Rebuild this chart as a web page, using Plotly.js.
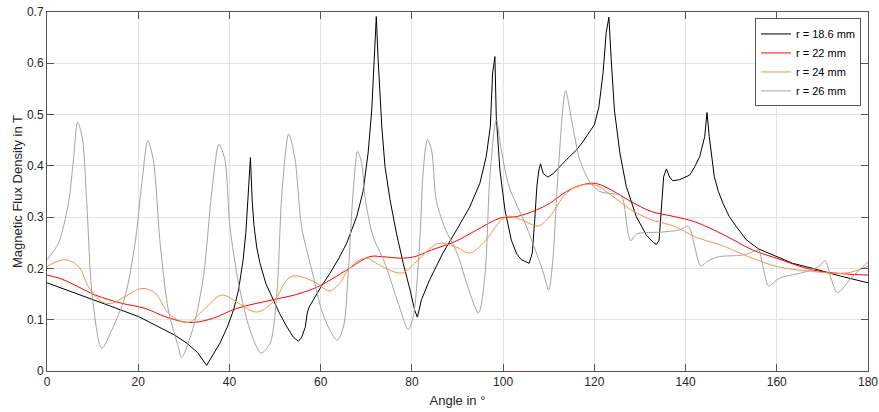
<!DOCTYPE html>
<html>
<head>
<meta charset="utf-8">
<script src="https://cdn.plot.ly/plotly-3.0.1.min.js"></script>
<style>html,body{margin:0;padding:0;background:#fff;}#chart{width:879px;height:412px;}</style>
</head>
<body>
<div id="chart"></div>
<script>
// r = 18.6 mm
var xBlack = [0, 5, 9.85, 15, 20.1, 25.2, 28, 30.7, 33, 35.0, 36.5, 37.9, 39.5, 40.9, 42, 43.0, 43.6, 44.1, 44.6, 45.0, 45.4, 46.0, 46.7, 48, 49.6, 51, 52.6, 54, 55.1, 55.8, 56.6, 57.1, 57.5, 58.75, 60, 62.0, 64, 65.7, 67.9, 69.3, 70.4, 71.2, 71.7, 72.2, 72.6, 73.4, 74.1, 75.2, 76.6, 78.1, 79.6, 80.6, 81.2, 82.1, 83.9, 86.8, 89.8, 92.7, 94.9, 96.3, 97.2, 97.5, 97.7, 98.0, 98.2, 98.5, 99.3, 100.4, 101.8, 103, 104.0, 105.7, 106.4, 106.9, 107.4, 107.8, 108.2, 108.8, 109.8, 111, 112.4, 114, 116.1, 117.5, 119.0, 120, 121, 121.9, 122.6, 123.2, 123.7, 124.4, 125.6, 127.0, 129.2, 131.4, 133.0, 133.6, 134.2, 134.6, 135.2, 135.8, 136.5, 137.2, 138.7, 140.9, 142, 143.1, 144.2, 144.7, 145.2, 146.3, 147.2, 148.2, 149.6, 151.1, 153.3, 156, 159.9, 163.5, 167.9, 174, 180];
var yBlack = [0.172, 0.156, 0.139, 0.123, 0.106, 0.083, 0.07, 0.054, 0.036, 0.011, 0.032, 0.054, 0.085, 0.119, 0.158, 0.217, 0.27, 0.347, 0.416, 0.33, 0.282, 0.24, 0.21, 0.17, 0.139, 0.112, 0.086, 0.066, 0.058, 0.065, 0.085, 0.115, 0.125, 0.145, 0.163, 0.19, 0.22, 0.249, 0.301, 0.35, 0.425, 0.509, 0.607, 0.691, 0.607, 0.477, 0.399, 0.334, 0.269, 0.21, 0.158, 0.119, 0.105, 0.139, 0.178, 0.23, 0.275, 0.32, 0.366, 0.418, 0.477, 0.55, 0.581, 0.6, 0.613, 0.496, 0.392, 0.314, 0.255, 0.228, 0.217, 0.21, 0.23, 0.29, 0.36, 0.39, 0.404, 0.385, 0.378, 0.385, 0.399, 0.413, 0.431, 0.447, 0.467, 0.48, 0.515, 0.58, 0.66, 0.69, 0.607, 0.509, 0.425, 0.36, 0.301, 0.265, 0.25, 0.247, 0.255, 0.3, 0.379, 0.394, 0.378, 0.371, 0.373, 0.382, 0.398, 0.418, 0.457, 0.504, 0.457, 0.379, 0.35, 0.327, 0.301, 0.282, 0.256, 0.238, 0.223, 0.21, 0.2, 0.185, 0.172];

// r = 22 mm
var xRed = [0, 3, 6.9, 10.6, 16.4, 21.5, 25.9, 29.9, 32.5, 36.5, 41.6, 49.6, 55, 59.8, 65.7, 70.8, 73.4, 77.7, 80.6, 84.3, 89.4, 94.2, 99.3, 102.9, 107.3, 110.2, 113.9, 117, 120.1, 123.7, 128.1, 132.5, 137.6, 142.0, 148.5, 154.7, 159.9, 167.9, 174, 180];
var yRed = [0.187, 0.18, 0.164, 0.148, 0.132, 0.122, 0.106, 0.096, 0.095, 0.103, 0.122, 0.139, 0.15, 0.166, 0.197, 0.223, 0.223, 0.22, 0.223, 0.236, 0.252, 0.275, 0.298, 0.301, 0.314, 0.327, 0.35, 0.362, 0.366, 0.353, 0.33, 0.311, 0.301, 0.291, 0.265, 0.236, 0.22, 0.197, 0.19, 0.187];

// r = 24 mm
var xOrange = [0, 4.0, 6.9, 9.1, 12.0, 14.2, 17.1, 20.8, 23.7, 26.6, 29.6, 31.4, 34.3, 38.3, 42.0, 46.0, 49.6, 53.5, 58.4, 62.0, 64.5, 66.0, 69.7, 73.4, 77.7, 80.6, 83.6, 85.8, 89.4, 92.7, 95.6, 100.7, 104, 107.7, 110.2, 113.9, 117, 120.1, 123.7, 128.1, 132.5, 137.6, 142.0, 148.5, 151.1, 154.7, 159.9, 167.9, 175.2, 180];
var yOrange = [0.204, 0.217, 0.204, 0.164, 0.135, 0.132, 0.145, 0.161, 0.152, 0.113, 0.096, 0.096, 0.119, 0.148, 0.132, 0.115, 0.135, 0.184, 0.175, 0.156, 0.175, 0.197, 0.22, 0.204, 0.191, 0.21, 0.236, 0.249, 0.243, 0.23, 0.249, 0.301, 0.295, 0.283, 0.301, 0.347, 0.362, 0.363, 0.343, 0.314, 0.295, 0.282, 0.262, 0.243, 0.233, 0.22, 0.204, 0.194, 0.191, 0.204];

// r = 26 mm
var xGray = [0, 2.5, 4.7, 5.8, 6.7, 7.7, 8.8, 9.85, 12.0, 14.2, 17.1, 19.3, 20.8, 22.1, 23.3, 24.8, 26.6, 28.8, 29.5, 32.1, 34.3, 36.1, 37.7, 39.0, 40.1, 42.0, 44.5, 46.9, 48.9, 50.4, 51.5, 53.0, 54.4, 55.8, 58.4, 60.2, 62.0, 63.6, 65.0, 66.0, 67.1, 68.1, 69.0, 69.7, 71.5, 74.1, 77.0, 79.2, 80.3, 81.7, 82.5, 83.4, 84.3, 85.4, 87.4, 89.4, 90.5, 92.0, 94.6, 96.0, 97.1, 98.5, 99.6, 101.3, 105.1, 108.7, 110.0, 110.9, 112.0, 113.7, 115.0, 116.8, 119.0, 121.2, 125.6, 126.3, 127.4, 128.0, 129.2, 135.0, 138.7, 140.6, 142.0, 143.3, 145, 147.4, 152.5, 155.5, 156.0, 157.3, 158.2, 160.6, 165.7, 169.3, 170.6, 171.9, 173.3, 176.6, 180];
var yGray = [0.217, 0.249, 0.327, 0.412, 0.485, 0.457, 0.314, 0.152, 0.044, 0.08, 0.145, 0.249, 0.366, 0.449, 0.412, 0.249, 0.119, 0.047, 0.026, 0.086, 0.184, 0.347, 0.442, 0.412, 0.282, 0.171, 0.08, 0.035, 0.054, 0.152, 0.347, 0.462, 0.412, 0.282, 0.184, 0.119, 0.08, 0.06, 0.086, 0.184, 0.347, 0.428, 0.405, 0.34, 0.262, 0.21, 0.132, 0.081, 0.106, 0.249, 0.392, 0.451, 0.431, 0.33, 0.275, 0.24, 0.215, 0.171, 0.113, 0.184, 0.379, 0.49, 0.431, 0.36, 0.282, 0.195, 0.158, 0.217, 0.379, 0.546, 0.49, 0.412, 0.369, 0.35, 0.343, 0.334, 0.269, 0.254, 0.267, 0.271, 0.275, 0.282, 0.243, 0.205, 0.215, 0.223, 0.226, 0.235, 0.237, 0.19, 0.166, 0.181, 0.192, 0.204, 0.215, 0.181, 0.153, 0.184, 0.213];

var seriesNames = ['r = 18.6 mm', 'r = 22 mm', 'r = 24 mm', 'r = 26 mm'];
var xTicks = [0, 20, 40, 60, 80, 100, 120, 140, 160, 180];
var yTicks = [0, 0.1, 0.2, 0.3, 0.4, 0.5, 0.6, 0.7];

var traces = [
  {x: xBlack, y: yBlack, name: seriesNames[0], mode: 'lines', line: {color: '#000000', width: 1, shape: 'linear'}},
  {x: xRed, y: yRed, name: seriesNames[1], mode: 'lines', line: {color: '#ff0000', width: 1, shape: 'spline', smoothing: 1}},
  {x: xOrange, y: yOrange, name: seriesNames[2], mode: 'lines', line: {color: '#f7914d', width: 1, shape: 'spline', smoothing: 1}},
  {x: xGray, y: yGray, name: seriesNames[3], mode: 'lines', line: {color: '#a9a29e', width: 1, shape: 'spline', smoothing: 0.8}}
];

var axisCommon = {
  showline: true, linecolor: '#555555', linewidth: 1, mirror: 'ticks',
  ticks: 'inside', ticklen: 7, tickcolor: '#555555', tickwidth: 1,
  showgrid: true, gridcolor: '#e3e3e3', gridwidth: 1, zeroline: false,
  tickfont: {family: 'Liberation Sans, Arial, sans-serif', size: 12, color: '#262626'}
};

var layout = {
  width: 879, height: 412,
  margin: {l: 47, r: 11, t: 12, b: 41},
  paper_bgcolor: '#ffffff', plot_bgcolor: '#ffffff',
  font: {family: 'Liberation Sans, Arial, sans-serif', color: '#262626'},
  showlegend: true,
  xaxis: Object.assign({}, axisCommon, {
    range: [0, 180], tickvals: xTicks, ticktext: xTicks.map(String),
    title: {text: 'Angle in °', font: {size: 13, color: '#262626'}, standoff: 7}
  }),
  yaxis: Object.assign({}, axisCommon, {
    range: [0, 0.7], tickvals: yTicks, ticktext: yTicks.map(String),
    title: {text: 'Magnetic Flux Density in T', font: {size: 13, color: '#262626'}, standoff: 1}
  }),
  legend: {
    x: 0.9915, xanchor: 'right', y: 0.982, yanchor: 'top',
    bgcolor: '#ffffff', bordercolor: '#555555', borderwidth: 1,
    font: {size: 11, color: '#000000'}, itemwidth: 30, tracegroupgap: 0
  }
};

Plotly.newPlot('chart', traces, layout, {displayModeBar: false, staticPlot: true});
</script>
</body>
</html>
